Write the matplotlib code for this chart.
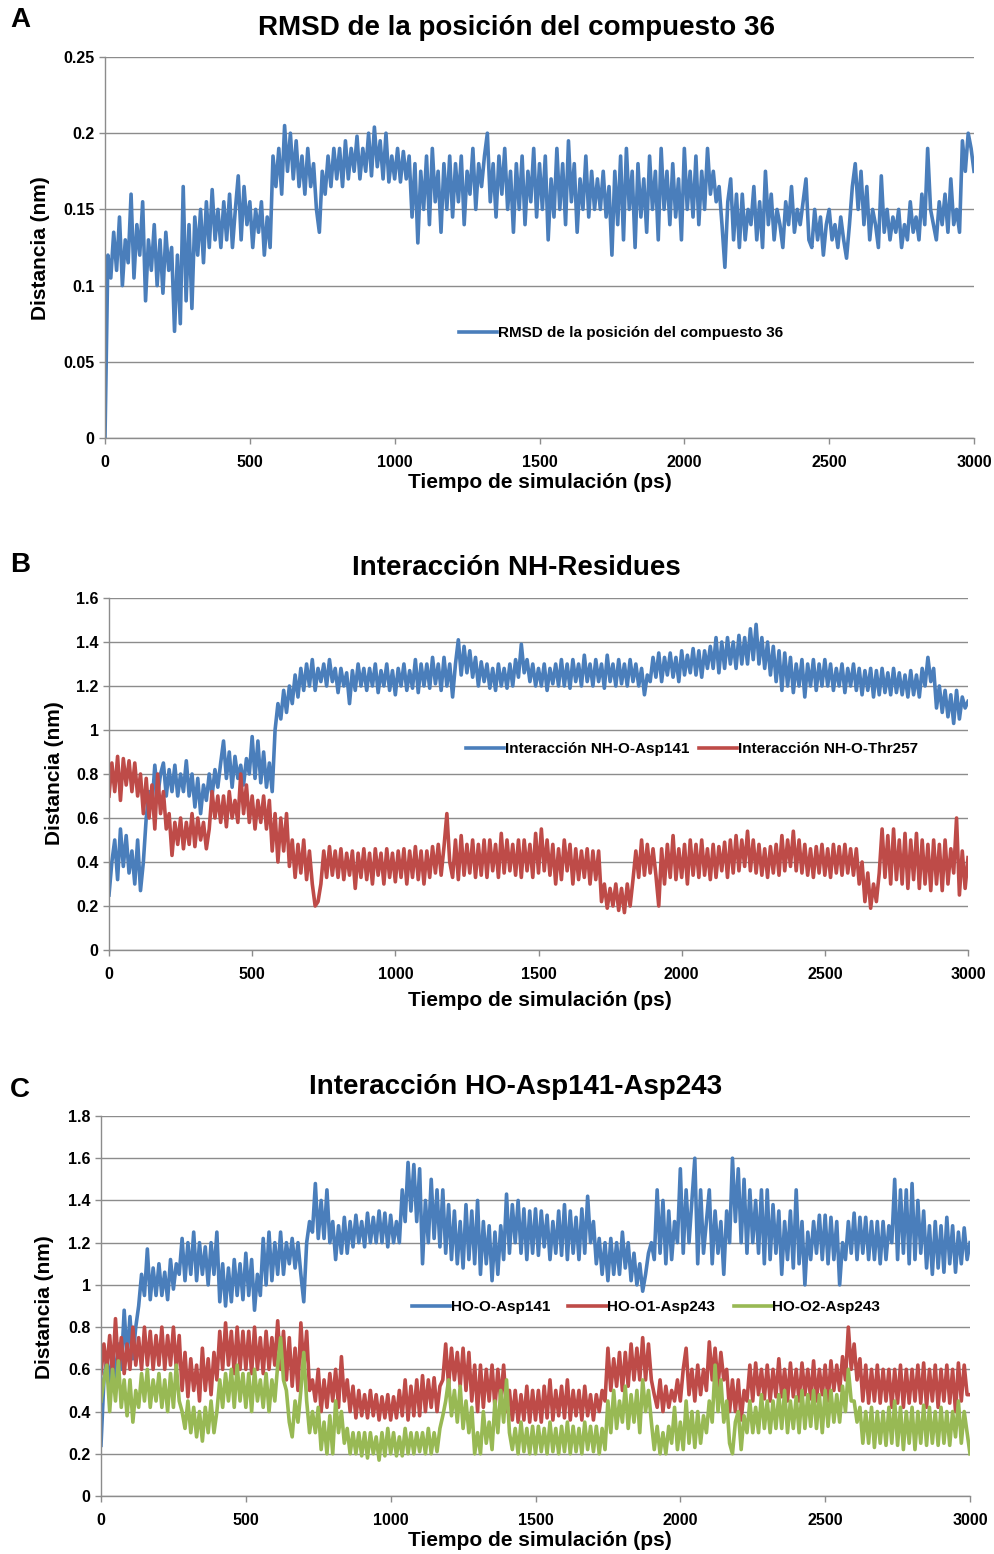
import numpy as np
import matplotlib
matplotlib.use("Agg")
import matplotlib.pyplot as plt

rmsd_a = [
    0.0, 0.12, 0.105, 0.135, 0.11, 0.145, 0.10, 0.13, 0.115, 0.16,
    0.105, 0.14, 0.12, 0.155, 0.09, 0.13, 0.11, 0.14, 0.10, 0.13,
    0.095, 0.135, 0.11, 0.125, 0.07, 0.12, 0.075, 0.165, 0.09, 0.14,
    0.085, 0.145, 0.12, 0.15, 0.115, 0.155, 0.125, 0.163, 0.13, 0.15,
    0.125, 0.155, 0.13, 0.16, 0.125, 0.15, 0.172, 0.13, 0.165, 0.14,
    0.155, 0.125, 0.15, 0.135, 0.155, 0.12, 0.145, 0.125, 0.185, 0.165,
    0.19, 0.16, 0.205, 0.175, 0.2, 0.17, 0.195, 0.165, 0.185, 0.16,
    0.19, 0.165, 0.18, 0.15, 0.135, 0.175, 0.16, 0.185, 0.165, 0.19,
    0.17, 0.19, 0.165, 0.195, 0.17, 0.19, 0.175, 0.198, 0.17, 0.19,
    0.175, 0.2, 0.172, 0.204, 0.178, 0.195, 0.17, 0.2, 0.168, 0.185,
    0.17, 0.19, 0.168, 0.188, 0.17, 0.185, 0.145, 0.18, 0.128, 0.175,
    0.15, 0.185, 0.14, 0.19, 0.155, 0.175, 0.135, 0.18, 0.15, 0.185,
    0.145, 0.18, 0.155, 0.185, 0.14, 0.175, 0.16, 0.19, 0.15, 0.18,
    0.165, 0.185, 0.2, 0.155, 0.18, 0.145, 0.185, 0.16, 0.19, 0.15,
    0.175, 0.135, 0.18, 0.15, 0.185, 0.14, 0.175, 0.155, 0.19, 0.145,
    0.18, 0.15, 0.185, 0.13, 0.17, 0.145, 0.19, 0.15, 0.18, 0.14,
    0.195, 0.155, 0.18, 0.135, 0.17, 0.15, 0.185, 0.145, 0.175, 0.15,
    0.17, 0.15, 0.175, 0.145, 0.165, 0.12, 0.175, 0.14, 0.185, 0.13,
    0.19, 0.15, 0.175, 0.125, 0.18, 0.145, 0.17, 0.135, 0.185, 0.15,
    0.175, 0.13, 0.19, 0.15, 0.175, 0.14, 0.18, 0.145, 0.17, 0.13,
    0.19, 0.15, 0.175, 0.145, 0.185, 0.14, 0.175, 0.15, 0.19, 0.16,
    0.175, 0.155, 0.165, 0.14, 0.112, 0.155, 0.17, 0.13, 0.16, 0.125,
    0.16, 0.13, 0.15, 0.14, 0.165, 0.13, 0.155, 0.125, 0.175, 0.14,
    0.16, 0.13, 0.15, 0.14, 0.125, 0.155, 0.14, 0.165, 0.135, 0.15,
    0.14, 0.155, 0.17, 0.13, 0.125, 0.15, 0.13, 0.145, 0.12, 0.14,
    0.15, 0.13, 0.14, 0.125, 0.145, 0.13, 0.118, 0.14, 0.165, 0.18,
    0.15, 0.175, 0.14, 0.165, 0.13, 0.15, 0.14, 0.125, 0.172, 0.135,
    0.15, 0.13, 0.145, 0.135, 0.15, 0.125, 0.14, 0.13, 0.155, 0.135,
    0.145, 0.13, 0.16, 0.14, 0.19, 0.15, 0.14, 0.13, 0.155, 0.14,
    0.16, 0.135, 0.17, 0.14, 0.15, 0.135, 0.195, 0.175, 0.2, 0.19,
    0.175]

nh_asp141 = [
    0.25, 0.4, 0.5, 0.32, 0.55, 0.38, 0.52, 0.35, 0.45, 0.3,
    0.5, 0.27, 0.4, 0.6, 0.72, 0.65, 0.84, 0.7, 0.8, 0.85,
    0.7, 0.82, 0.72, 0.84, 0.7, 0.8, 0.72, 0.86, 0.7, 0.8,
    0.65, 0.78, 0.62, 0.75, 0.68, 0.8, 0.7, 0.82, 0.74, 0.85,
    0.95, 0.78, 0.9, 0.74, 0.88, 0.78, 0.84, 0.75, 0.87, 0.8,
    0.97, 0.78, 0.95, 0.76, 0.9, 0.74, 0.85, 0.72, 1.0, 1.12,
    1.05, 1.18, 1.08, 1.2, 1.12, 1.25, 1.15, 1.28, 1.18, 1.3,
    1.2, 1.32, 1.18, 1.28, 1.22, 1.3, 1.2, 1.32, 1.22, 1.28,
    1.17, 1.28, 1.2, 1.26, 1.12, 1.27, 1.18, 1.3, 1.2, 1.28,
    1.18, 1.28, 1.2, 1.3, 1.17, 1.27, 1.2, 1.3, 1.18, 1.27,
    1.16, 1.28, 1.2, 1.3, 1.18, 1.27, 1.19, 1.32, 1.17, 1.3,
    1.2, 1.3, 1.19, 1.33, 1.21, 1.3, 1.18, 1.33, 1.2, 1.3,
    1.15, 1.3, 1.41, 1.25, 1.38, 1.26, 1.36, 1.24, 1.33, 1.2,
    1.31, 1.22, 1.3, 1.19, 1.28, 1.18, 1.3, 1.2, 1.28, 1.19,
    1.3, 1.2, 1.32, 1.24, 1.39, 1.26, 1.32, 1.22, 1.3, 1.2,
    1.28, 1.2, 1.3, 1.18, 1.28, 1.21, 1.3, 1.2, 1.32, 1.2,
    1.3, 1.19, 1.32, 1.22, 1.3, 1.2, 1.34, 1.22, 1.3, 1.2,
    1.32, 1.22, 1.3, 1.19, 1.34, 1.22, 1.3, 1.2, 1.32, 1.21,
    1.3, 1.2, 1.32, 1.22, 1.3, 1.2, 1.28, 1.16, 1.25, 1.22,
    1.33, 1.24, 1.35, 1.22, 1.33, 1.25, 1.35, 1.24, 1.33, 1.22,
    1.36, 1.25, 1.34, 1.26, 1.37, 1.25, 1.36, 1.24, 1.36, 1.28,
    1.38, 1.28, 1.42, 1.26, 1.4, 1.28, 1.42, 1.3, 1.4, 1.28,
    1.43, 1.3, 1.42, 1.3, 1.46, 1.32, 1.48, 1.3, 1.42, 1.28,
    1.4, 1.25, 1.38, 1.22, 1.36, 1.18, 1.35, 1.2, 1.33, 1.17,
    1.3, 1.2, 1.32, 1.15, 1.3, 1.2, 1.32, 1.18, 1.3, 1.2,
    1.32, 1.2, 1.3, 1.18, 1.28, 1.2, 1.3, 1.17, 1.28, 1.2,
    1.3, 1.18, 1.28, 1.16, 1.27, 1.18, 1.28, 1.15, 1.27, 1.16,
    1.28, 1.17, 1.26, 1.16, 1.28, 1.17, 1.26, 1.16, 1.25, 1.15,
    1.27, 1.16, 1.25, 1.15, 1.28, 1.2, 1.33, 1.22, 1.28, 1.1,
    1.2, 1.08, 1.18, 1.06, 1.16, 1.03, 1.18, 1.05, 1.15, 1.1,
    1.13]

nh_thr257 = [
    0.7, 0.85, 0.72, 0.88, 0.68, 0.87, 0.75, 0.86, 0.72, 0.85,
    0.7, 0.8, 0.62, 0.78, 0.6, 0.75, 0.55, 0.8, 0.62, 0.72,
    0.55, 0.62, 0.43, 0.58, 0.48, 0.6, 0.46, 0.58, 0.48, 0.62,
    0.47, 0.6, 0.5, 0.58, 0.46, 0.55, 0.72, 0.6, 0.7, 0.58,
    0.7, 0.56, 0.72, 0.6, 0.68, 0.58, 0.8, 0.62, 0.75, 0.58,
    0.7, 0.55, 0.68, 0.58, 0.7, 0.55, 0.68, 0.45, 0.62, 0.4,
    0.6, 0.45, 0.62, 0.38, 0.5, 0.33, 0.48, 0.35, 0.5, 0.32,
    0.45, 0.3, 0.2, 0.22, 0.3, 0.45, 0.33, 0.47, 0.34, 0.45,
    0.33, 0.46, 0.32, 0.44, 0.34, 0.45, 0.28, 0.44, 0.33, 0.46,
    0.32, 0.44, 0.3, 0.46, 0.34, 0.44, 0.3, 0.46, 0.33, 0.44,
    0.31, 0.45, 0.33, 0.46, 0.3, 0.45, 0.33, 0.47, 0.32, 0.45,
    0.3, 0.45, 0.33, 0.47, 0.35, 0.48, 0.34, 0.47, 0.62, 0.4,
    0.33, 0.5, 0.32, 0.52, 0.34, 0.48, 0.35, 0.5, 0.33, 0.48,
    0.34, 0.5, 0.33, 0.5, 0.36, 0.48, 0.33, 0.53, 0.35, 0.5,
    0.36, 0.48, 0.34, 0.5, 0.33, 0.5, 0.36, 0.48, 0.33, 0.53,
    0.35, 0.55, 0.36, 0.5, 0.34, 0.48, 0.3, 0.46, 0.32, 0.5,
    0.36, 0.48, 0.3, 0.46, 0.32, 0.45, 0.33, 0.46, 0.3, 0.45,
    0.32, 0.45, 0.22, 0.3, 0.19, 0.28, 0.2, 0.3, 0.18, 0.28,
    0.17, 0.3, 0.2, 0.32, 0.45, 0.33, 0.5, 0.34, 0.48, 0.35,
    0.46, 0.34, 0.2, 0.46, 0.3, 0.48, 0.33, 0.52, 0.32, 0.46,
    0.33, 0.48, 0.3, 0.5, 0.34, 0.48, 0.33, 0.5, 0.34, 0.46,
    0.32, 0.48, 0.33, 0.47, 0.36, 0.49, 0.33, 0.5, 0.35, 0.52,
    0.36, 0.5, 0.38, 0.54, 0.36, 0.5, 0.35, 0.48, 0.34, 0.46,
    0.33, 0.47, 0.35, 0.48, 0.34, 0.52, 0.36, 0.5, 0.38, 0.54,
    0.36, 0.5, 0.35, 0.48, 0.34, 0.46, 0.33, 0.47, 0.35, 0.48,
    0.34, 0.46, 0.33, 0.48, 0.35, 0.47, 0.34, 0.48, 0.35, 0.46,
    0.34, 0.46, 0.3, 0.4, 0.22, 0.35, 0.19, 0.3, 0.22, 0.35,
    0.55, 0.33, 0.52, 0.3, 0.55, 0.32, 0.5, 0.3, 0.53, 0.28,
    0.5, 0.32, 0.53, 0.28, 0.5, 0.3, 0.48, 0.27, 0.5, 0.3,
    0.48, 0.27, 0.5, 0.3, 0.46, 0.35, 0.6, 0.25, 0.45, 0.28,
    0.42]

ho_asp141 = [
    0.24, 0.55, 0.65, 0.52, 0.7, 0.55, 0.72, 0.6, 0.88, 0.65,
    0.85, 0.65, 0.8, 0.9, 1.05, 0.95, 1.17, 0.93, 1.08, 0.95,
    1.1, 0.95, 1.06, 0.93, 1.12, 0.98, 1.1, 1.05, 1.22, 1.02,
    1.2, 1.05, 1.25, 1.02, 1.2, 1.05, 1.18, 1.0, 1.2, 1.05,
    1.25, 0.92, 1.1, 0.9, 1.08, 0.92, 1.12, 0.95, 1.1, 0.93,
    1.15, 0.95, 1.12, 0.88, 1.05, 0.95, 1.22, 1.0, 1.25, 1.02,
    1.2, 1.05, 1.25, 1.05, 1.2, 1.1, 1.22, 1.08, 1.2, 1.05,
    0.92, 1.2, 1.3, 1.25, 1.48, 1.22, 1.4, 1.22, 1.45, 1.2,
    1.3, 1.12, 1.28, 1.15, 1.32, 1.15, 1.3, 1.18, 1.33, 1.2,
    1.3, 1.18, 1.34, 1.2, 1.32, 1.2, 1.35, 1.2, 1.34, 1.18,
    1.33, 1.2, 1.3, 1.2, 1.45, 1.3, 1.58, 1.35, 1.57, 1.3,
    1.55, 1.1, 1.4, 1.2, 1.5, 1.22, 1.45, 1.18, 1.45, 1.15,
    1.38, 1.12, 1.35, 1.1, 1.3, 1.08, 1.38, 1.12, 1.35, 1.1,
    1.4, 1.05, 1.3, 1.1, 1.28, 1.02, 1.25, 1.05, 1.28, 1.12,
    1.43, 1.15, 1.38, 1.2, 1.4, 1.15, 1.36, 1.12, 1.35, 1.15,
    1.36, 1.14, 1.35, 1.18, 1.33, 1.12, 1.3, 1.15, 1.35, 1.14,
    1.38, 1.12, 1.35, 1.15, 1.32, 1.12, 1.36, 1.15, 1.42, 1.2,
    1.3, 1.1, 1.22, 1.05, 1.2, 1.02, 1.22, 1.05, 1.2, 1.05,
    1.25, 1.08, 1.2, 1.02, 1.15, 1.0, 1.1, 0.97, 1.05, 1.15,
    1.2, 1.12, 1.45, 1.15, 1.4, 1.1, 1.35, 1.12, 1.3, 1.2,
    1.55, 1.15, 1.45, 1.2, 1.4, 1.6, 1.1, 1.45, 1.15, 1.3,
    1.45, 1.1, 1.35, 1.15, 1.3, 1.05, 1.35, 1.2, 1.6, 1.3,
    1.55, 1.2, 1.5, 1.15, 1.45, 1.2, 1.4, 1.15, 1.45, 1.1,
    1.45, 1.12, 1.38, 1.15, 1.35, 1.05, 1.3, 1.12, 1.35, 1.08,
    1.45, 1.1, 1.3, 1.0, 1.25, 1.12, 1.3, 1.15, 1.33, 1.12,
    1.33, 1.1, 1.32, 1.12, 1.3, 1.0, 1.2, 1.12, 1.3, 1.15,
    1.34, 1.12, 1.32, 1.15, 1.32, 1.12, 1.3, 1.12, 1.3, 1.1,
    1.3, 1.12, 1.28, 1.2, 1.5, 1.12, 1.45, 1.15, 1.45, 1.1,
    1.48, 1.12, 1.4, 1.15, 1.35, 1.08, 1.28, 1.05, 1.3, 1.08,
    1.28, 1.06, 1.32, 1.1, 1.28, 1.06, 1.25, 1.1, 1.27, 1.12,
    1.2]

ho_o1_asp243 = [
    0.58, 0.72, 0.6, 0.76, 0.58, 0.84, 0.6, 0.75, 0.58, 0.72,
    0.6, 0.8, 0.62, 0.75, 0.6, 0.8, 0.62, 0.78, 0.6, 0.76,
    0.62, 0.8, 0.6, 0.76, 0.62, 0.8, 0.6, 0.76, 0.5, 0.68,
    0.47, 0.65, 0.5, 0.62, 0.45, 0.7, 0.5, 0.65, 0.48, 0.68,
    0.55, 0.78, 0.6, 0.82, 0.62, 0.78, 0.58, 0.8, 0.6, 0.78,
    0.6, 0.78, 0.58, 0.8, 0.6, 0.75, 0.58, 0.78, 0.6, 0.75,
    0.62, 0.83, 0.6, 0.78, 0.55, 0.75, 0.52, 0.7, 0.5, 0.82,
    0.6, 0.78, 0.5, 0.55, 0.45, 0.6, 0.4, 0.55, 0.42, 0.58,
    0.45, 0.6, 0.42, 0.66, 0.45, 0.55, 0.4, 0.52, 0.37, 0.5,
    0.38, 0.48, 0.37, 0.5, 0.38, 0.48, 0.36, 0.47, 0.37, 0.48,
    0.36, 0.47, 0.37, 0.5, 0.38, 0.55, 0.36, 0.52, 0.38, 0.55,
    0.38, 0.57, 0.4, 0.55, 0.42, 0.56, 0.4, 0.52, 0.55, 0.72,
    0.52, 0.7, 0.55, 0.68, 0.52, 0.7, 0.5, 0.68, 0.45, 0.62,
    0.4, 0.62, 0.42, 0.6, 0.45, 0.62, 0.42, 0.6, 0.45, 0.62,
    0.4, 0.5, 0.36, 0.5, 0.35, 0.48, 0.36, 0.52, 0.35, 0.5,
    0.36, 0.5, 0.35, 0.52, 0.37, 0.55, 0.36, 0.5, 0.38, 0.52,
    0.37, 0.55, 0.36, 0.5, 0.38, 0.5, 0.36, 0.52, 0.38, 0.48,
    0.36, 0.48, 0.4, 0.5, 0.45, 0.7, 0.5, 0.65, 0.52, 0.68,
    0.5, 0.68, 0.52, 0.72, 0.55, 0.7, 0.55, 0.75, 0.55, 0.72,
    0.55, 0.48, 0.42, 0.55, 0.4, 0.52, 0.42, 0.5, 0.45, 0.55,
    0.45, 0.6, 0.7, 0.48, 0.6, 0.45, 0.62, 0.48, 0.6, 0.5,
    0.73, 0.55, 0.7, 0.52, 0.68, 0.55, 0.6, 0.4, 0.55, 0.4,
    0.55, 0.36, 0.5, 0.45, 0.62, 0.45, 0.63, 0.48, 0.6, 0.46,
    0.62, 0.45, 0.6, 0.47, 0.65, 0.47, 0.6, 0.45, 0.63, 0.47,
    0.6, 0.45, 0.63, 0.48, 0.6, 0.46, 0.64, 0.45, 0.6, 0.48,
    0.62, 0.45, 0.64, 0.5, 0.62, 0.5, 0.66, 0.55, 0.8, 0.6,
    0.72, 0.55, 0.65, 0.45, 0.62, 0.44, 0.6, 0.45, 0.62, 0.44,
    0.6, 0.45, 0.6, 0.42, 0.6, 0.44, 0.62, 0.42, 0.6, 0.44,
    0.6, 0.45, 0.62, 0.44, 0.63, 0.42, 0.6, 0.45, 0.62, 0.42,
    0.6, 0.45, 0.62, 0.44, 0.6, 0.4, 0.63, 0.45, 0.62, 0.48,
    0.48]

ho_o2_asp243 = [
    0.45, 0.55, 0.62, 0.4, 0.6, 0.45, 0.64, 0.42, 0.55, 0.38,
    0.55, 0.35, 0.5, 0.42, 0.58, 0.45, 0.6, 0.42, 0.55, 0.45,
    0.58, 0.42, 0.55, 0.4, 0.58, 0.42, 0.62, 0.45, 0.4, 0.32,
    0.45, 0.3, 0.42, 0.28, 0.4, 0.26, 0.42, 0.3, 0.45, 0.3,
    0.4, 0.55, 0.42, 0.58, 0.45, 0.6, 0.42, 0.62, 0.45, 0.58,
    0.42, 0.58, 0.4, 0.6, 0.45, 0.55, 0.42, 0.58, 0.4, 0.55,
    0.45, 0.62, 0.75, 0.55, 0.5, 0.35, 0.28, 0.45, 0.35, 0.5,
    0.68, 0.45, 0.3, 0.4, 0.3, 0.42, 0.22, 0.35, 0.2, 0.38,
    0.2, 0.45, 0.3, 0.4, 0.25, 0.32, 0.2, 0.3, 0.2, 0.3,
    0.19, 0.3, 0.18, 0.3, 0.2, 0.28, 0.17, 0.3, 0.19, 0.32,
    0.2, 0.3, 0.19, 0.28, 0.19, 0.32, 0.2, 0.3, 0.2, 0.3,
    0.21, 0.3, 0.2, 0.32, 0.2, 0.3, 0.21, 0.32, 0.38, 0.45,
    0.55, 0.38, 0.5, 0.35, 0.52, 0.32, 0.45, 0.3, 0.42, 0.2,
    0.3, 0.2, 0.4, 0.25, 0.35, 0.22, 0.45, 0.3, 0.5, 0.35,
    0.55, 0.3, 0.22, 0.32, 0.2, 0.35, 0.21, 0.32, 0.2, 0.33,
    0.2, 0.33, 0.21, 0.32, 0.2, 0.35, 0.21, 0.32, 0.2, 0.33,
    0.21, 0.35, 0.2, 0.33, 0.21, 0.32, 0.2, 0.35, 0.22, 0.33,
    0.21, 0.33, 0.2, 0.32, 0.22, 0.45, 0.3, 0.5, 0.32, 0.45,
    0.35, 0.52, 0.32, 0.48, 0.35, 0.5, 0.3, 0.55, 0.4, 0.5,
    0.35, 0.22, 0.33, 0.2, 0.3, 0.2, 0.33, 0.25, 0.42, 0.22,
    0.35, 0.22, 0.45, 0.25, 0.4, 0.23, 0.4, 0.25, 0.38, 0.3,
    0.45, 0.35, 0.62, 0.4, 0.55, 0.35, 0.45, 0.25, 0.2, 0.35,
    0.4, 0.22, 0.38, 0.3, 0.45, 0.3, 0.42, 0.3, 0.48, 0.32,
    0.45, 0.3, 0.45, 0.32, 0.48, 0.32, 0.5, 0.3, 0.45, 0.32,
    0.47, 0.3, 0.5, 0.32, 0.48, 0.33, 0.5, 0.32, 0.48, 0.3,
    0.5, 0.33, 0.5, 0.35, 0.48, 0.35, 0.52, 0.4, 0.6, 0.45,
    0.45, 0.35, 0.42, 0.25, 0.4, 0.25, 0.42, 0.23, 0.4, 0.25,
    0.4, 0.24, 0.42, 0.25, 0.45, 0.24, 0.42, 0.22, 0.4, 0.25,
    0.42, 0.22, 0.4, 0.25, 0.43, 0.24, 0.42, 0.25, 0.4, 0.24,
    0.42, 0.25, 0.4, 0.24, 0.4, 0.28, 0.45, 0.25, 0.4, 0.3,
    0.2]

x_ticks = [0, 500, 1000, 1500, 2000, 2500, 3000]
titles = ["RMSD de la posición del compuesto 36",
          "Interacción NH-Residues",
          "Interacción HO-Asp141-Asp243"]
xlabel = "Tiempo de simulación (ps)"
ylabel = "Distancia (nm)"
panel_letters = ["A", "B", "C"]

BLUE = "#4A7EBB"
RED = "#BE4B48"
GREEN = "#98B954"
GRID = "#8C8C8C"

plt.rcParams['font.family'] = ['Liberation Sans', 'DejaVu Sans']

W, H = 994, 1554
fig = plt.figure(figsize=(W / 100, H / 100), dpi=100)


def ax_px(left, top, right, bottom):
    return fig.add_axes([left / W, 1 - bottom / H, (right - left) / W, (bottom - top) / H])


def style(ax, ymax, ystep, yfmt):
    ax.set_xlim(0, 3000)
    ax.set_ylim(0, ymax)
    ax.set_xticks(x_ticks)
    yt = np.arange(0, ymax + ystep / 2, ystep)
    ax.set_yticks(yt)
    ax.set_yticklabels([yfmt(v) for v in yt])
    ax.set_xticklabels([str(v) for v in x_ticks])
    ax.grid(axis='y', color=GRID, lw=1.0)
    ax.set_axisbelow(True)
    for s in ['top', 'right']:
        ax.spines[s].set_visible(False)
    for s in ['left', 'bottom']:
        ax.spines[s].set_color(GRID)
        ax.spines[s].set_linewidth(1.0)
    ax.tick_params(axis='both', colors=GRID, length=4, width=1, direction='out',
                   labelcolor='black', labelsize=11.5)
    ax.tick_params(axis='x', pad=8)
    for lab in ax.get_xticklabels() + ax.get_yticklabels():
        lab.set_fontweight('bold')


def fmt_a(v):
    return f"{v:.2f}".rstrip('0').rstrip('.')


def fmt_bc(v):
    return f"{v:.1f}".rstrip('0').rstrip('.')


LW = 2.6
LEG = {'weight': 'bold', 'size': 11}

# ---------------- Panel A ----------------
axA = ax_px(105, 57, 974, 438)
tA = np.linspace(0, 3000, len(rmsd_a))
axA.plot(tA, rmsd_a, color=BLUE, lw=LW, label=titles[0])
style(axA, 0.25, 0.05, fmt_a)
axA.legend(loc='center', bbox_to_anchor=(621 / W, 1 - 333 / H), bbox_transform=fig.transFigure,
           frameon=False, handlelength=2.5, handletextpad=0.05, prop=LEG)

# ---------------- Panel B ----------------
axB = ax_px(109, 598, 968, 950)
tB = np.linspace(0, 3000, len(nh_asp141))
axB.plot(tB, nh_asp141, color=BLUE, lw=LW, label="Interacción NH-O-Asp141")
axB.plot(tB, nh_thr257, color=RED, lw=LW, label="Interacción NH-O-Thr257")
style(axB, 1.6, 0.2, fmt_bc)
axB.legend(loc='center', bbox_to_anchor=(692 / W, 1 - 749 / H), bbox_transform=fig.transFigure,
           frameon=False, ncol=2, handlelength=2.5, handletextpad=0.05, columnspacing=0.6,
           prop=LEG)

# ---------------- Panel C ----------------
axC = ax_px(101, 1116, 970, 1496)
tC = np.linspace(0, 3000, len(ho_asp141))
axC.plot(tC, ho_asp141, color=BLUE, lw=LW, label="HO-O-Asp141")
axC.plot(tC, ho_o1_asp243, color=RED, lw=LW, label="HO-O1-Asp243")
axC.plot(tC, ho_o2_asp243, color=GREEN, lw=LW, label="HO-O2-Asp243")
style(axC, 1.8, 0.2, fmt_bc)
axC.legend(loc='center', bbox_to_anchor=(646 / W, 1 - 1307 / H), bbox_transform=fig.transFigure,
           frameon=False, ncol=3, handlelength=2.5, handletextpad=0.05, columnspacing=1.2,
           prop=LEG)

# ---------------- titles, labels, letters ----------------
for (tx, ty), t in zip([(516, 28), (516, 568), (516, 1087)], titles):
    fig.text(tx / W, 1 - ty / H, t, ha='center', va='center', fontsize=20, fontweight='bold')

for (tx, ty) in [(540, 483), (540, 1000), (540, 1541)]:
    fig.text(tx / W, 1 - ty / H, xlabel, ha='center', va='center', fontsize=15, fontweight='bold')

for (tx, ty) in [(40, 248), (55, 773), (44, 1307)]:
    fig.text(tx / W, 1 - ty / H, ylabel, ha='center', va='center', rotation=90,
             fontsize=15, fontweight='bold')

for (tx, ty), L in zip([(20, 20), (20, 565), (20, 1090)], panel_letters):
    fig.text(tx / W, 1 - ty / H, L, ha='center', va='center', fontsize=20, fontweight='bold')

fig.savefig("out.png", dpi=100)
